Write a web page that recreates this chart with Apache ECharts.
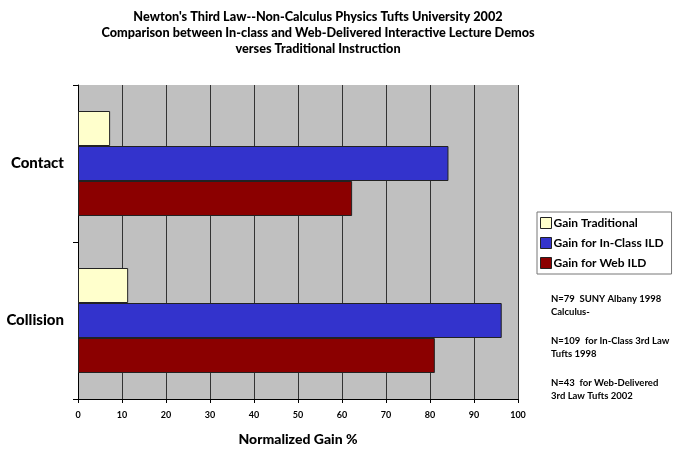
<!DOCTYPE html>
<html>
<head>
<meta charset="utf-8">
<script src="https://cdn.jsdelivr.net/npm/echarts@6/dist/echarts.min.js"></script>
<style>
  html, body { margin: 0; padding: 0; background: #ffffff; }
  #chart { width: 675px; height: 451px; }
</style>
</head>
<body>
<div id="chart"></div>
<script>
// Topics (top to bottom)
const categories = ['Contact', 'Collision'];

// Normalized gain (%) per topic
const gainTraditional = [7.3, 11.4];
const gainInClassILD = [84.2, 96.3];
const gainWebILD = [62.3, 81.1];

const seriesNames = ['Gain Traditional', 'Gain for In-Class ILD', 'Gain for Web ILD'];
const seriesColors = ['#ffffcc', '#3333cc', '#8b0000'];

const xTicks = { min: 0, max: 100, interval: 10 };

const titleLines = [
  "Newton's Third Law--Non-Calculus Physics Tufts University 2002",
  'Comparison between In-class and Web-Delivered Interactive Lecture Demos',
  'verses Traditional Instruction'
];

const sampleNotes = [
  'N=79  SUNY Albany 1998\nCalculus-',
  'N=109  for In-Class 3rd Law\nTufts 1998',
  'N=43  for Web-Delivered\n3rd Law Tufts 2002'
];

const FONT = 'Lato, "Liberation Sans", sans-serif';

const chart = echarts.init(document.getElementById('chart'), null, { renderer: 'canvas' });

const values = [gainTraditional, gainInClassILD, gainWebILD];

chart.setOption({
  animation: false,
  backgroundColor: '#ffffff',
  textStyle: { fontFamily: FONT },
  title: {
    text: titleLines.join('\n'),
    left: 313,
    textAlign: 'center',
    top: 4,
    textStyle: { fontFamily: FONT, fontSize: 12.7, fontWeight: 900, color: '#000', lineHeight: 16 }
  },
  grid: { left: 78, right: 157, top: 85, bottom: 49, show: true, backgroundColor: '#c0c0c0', borderWidth: 0 },
  legend: {
    orient: 'vertical',
    left: 537,
    top: 212,
    padding: [5, 8, 5, 3],
    itemGap: 8,
    itemWidth: 11,
    itemHeight: 11,
    icon: 'rect',
    borderColor: '#777',
    borderWidth: 1,
    backgroundColor: '#fff',
    textStyle: { fontFamily: FONT, fontSize: 12, fontWeight: 'bold', color: '#000', padding: [0, 0, 0, -3] },
    data: seriesNames.map((n, i) => ({ name: n, itemStyle: { color: seriesColors[i], borderColor: '#222', borderWidth: 1 } }))
  },
  xAxis: {
    type: 'value',
    min: xTicks.min,
    max: xTicks.max,
    interval: xTicks.interval,
    name: 'Normalized Gain %',
    nameLocation: 'middle',
    nameGap: 33,
    nameTextStyle: { fontFamily: FONT, fontSize: 14, fontWeight: 900, color: '#000' },
    axisLine: { show: true, lineStyle: { color: '#000', width: 1 } },
    axisTick: { show: true, length: 4, lineStyle: { color: '#000' } },
    axisLabel: { fontFamily: FONT, fontSize: 9, fontWeight: 'bold', color: '#000', margin: 12 },
    splitLine: { show: true, lineStyle: { color: '#333', width: 1 } }
  },
  yAxis: {
    type: 'category',
    data: categories,
    inverse: true,
    axisLine: { show: true, lineStyle: { color: '#000', width: 1 } },
    axisTick: { show: true, length: 5, lineStyle: { color: '#000' } },
    axisLabel: { fontFamily: FONT, fontSize: 15, fontWeight: 900, color: '#000', margin: 14 },
    splitLine: { show: false }
  },
  series: seriesNames.map((n, i) => ({
    name: n,
    type: 'bar',
    data: values[i],
    barWidth: 35,
    barGap: '0%',
    barCategoryGap: '34%',
    itemStyle: { color: seriesColors[i], borderColor: '#222', borderWidth: 1 }
  })),
  graphic: sampleNotes.map((t, i) => ({
    type: 'text',
    left: 551,
    top: 292 + i * 42,
    style: { text: t, fill: '#000', font: 'bold 9.5px ' + FONT, lineHeight: 13 }
  }))
});
</script>
</body>
</html>
